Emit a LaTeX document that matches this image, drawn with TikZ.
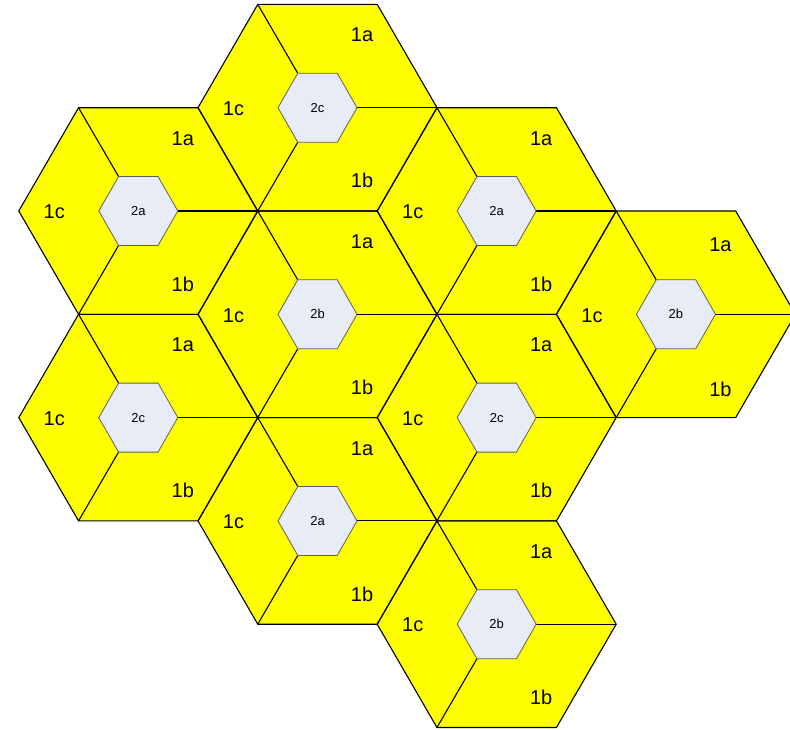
\documentclass[tikz,border=0pt]{standalone}
\usepackage{fontspec}
\setmainfont{Liberation Sans}
\definecolor{cellyellow}{RGB}{255,255,0}
\definecolor{corefill}{RGB}{231,236,247}
\definecolor{coreline}{RGB}{95,95,95}
\tikzset{
  bighexfill/.style={fill=cellyellow},
  bighexline/.style={draw=black,line width=1.1pt,line join=miter},
  divider/.style={draw=black,line width=1.1pt},
  corehex/.style={fill=corefill,draw=coreline,line width=0.8pt,line join=miter},
  bigtxt/.style={font=\fontsize{20}{24}\selectfont,inner sep=0pt},
  smalltxt/.style={font=\fontsize{13}{15}\selectfont,inner sep=0pt},
}
\begin{document}
\begin{tikzpicture}[x=1pt,y=-1pt]
\clip (0,0) rectangle (790,729);
\def\R{119.5}\def\RH{59.75}\def\H{103.3}
\def\r{39.5}\def\rh{19.75}\def\h{34.5}
\def\cells{A/138.3/211/0/2a,C/317.5/107.7/0/2c,D/317.5/314.3/0/2b,B/138.3/417.6/0/2c,E/496.7/211/0/2a,G/496.7/417.6/0/2c,H/317.5/520.9/0/2a,I/496.7/624.2/0/2b,F/675.95/314.3/2.5/2b}
% fills
\foreach \n/\cx/\cy/\ly/\lab in \cells {
  \fill[bighexfill] (\cx-\R,\cy) -- (\cx-\RH,\cy-\H) -- (\cx+\RH,\cy-\H) -- (\cx+\R,\cy) -- (\cx+\RH,\cy+\H) -- (\cx-\RH,\cy+\H) -- cycle;
}
% outlines and dividers
\foreach \n/\cx/\cy/\ly/\lab in \cells {
  \coordinate (\n-ul) at (\cx-\RH,\cy-\H);
  \coordinate (\n-r) at (\cx+\R,\cy);
  \coordinate (\n-ll) at (\cx-\RH,\cy+\H);
  \coordinate (\n-sul) at (\cx-\rh,\cy-\h);
  \coordinate (\n-sr) at (\cx+\r,\cy);
  \coordinate (\n-sll) at (\cx-\rh,\cy+\h);
  \draw[bighexline] (\cx-\R,\cy) -- (\n-ul) -- (\cx+\RH,\cy-\H) -- (\n-r) -- (\cx+\RH,\cy+\H) -- (\n-ll) -- cycle;
  \draw[divider] (\n-sul) -- (\n-ul);
  \draw[divider] (\n-sr) -- (\n-r);
  \draw[divider] (\n-sll) -- (\n-ll);
}
% cores and labels
\foreach \n/\cx/\cy/\ly/\lab in \cells {
  \draw[corehex] (\cx-\r,\cy) -- (\n-sul) -- (\cx+\rh,\cy-\h) -- (\n-sr) -- (\cx+\rh,\cy+\h) -- (\n-sll) -- cycle;
  \node[smalltxt] (\n-core) at (\cx,\cy) {\lab};
  \node[bigtxt] (\n-1a) at (\cx+44.5,\cy-72.5+\ly) {1a};
  \node[bigtxt] (\n-1b) at (\cx+44.5,\cy+73+\ly) {1b};
  \node[bigtxt] (\n-1c) at (\cx-84,\cy+1) {1c};
}
\end{tikzpicture}
\end{document}
